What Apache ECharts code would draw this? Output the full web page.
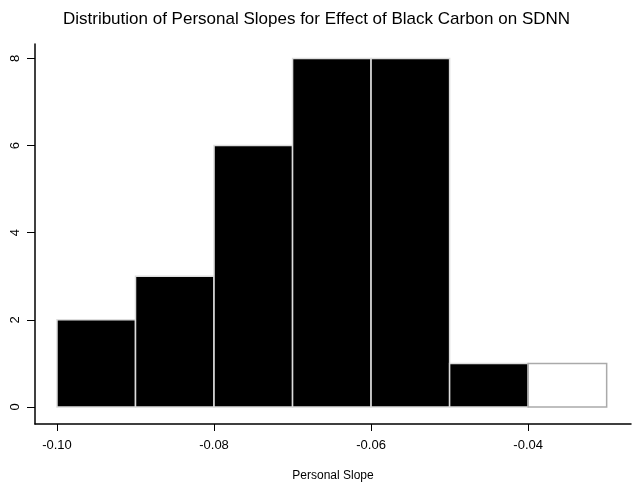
<!DOCTYPE html>
<html><head><meta charset="utf-8">
<script src="https://cdn.jsdelivr.net/npm/echarts@6/dist/echarts.min.js"></script>
<style>html,body{margin:0;padding:0;background:#fff}#c{width:633px;height:487px}</style>
</head><body><div id="c"></div>
<script>
const binStarts = [-0.10, -0.09, -0.08, -0.07, -0.06, -0.05, -0.04];
const binWidth = 0.01;
const counts = [2, 3, 6, 8, 8, 1, 1];
const xTicks = [-0.10, -0.08, -0.06, -0.04];
const xTickLabels = ['-0.10', '-0.08', '-0.06', '-0.04'];
const yTicks = [0, 2, 4, 6, 8];
const title = 'Distribution of Personal Slopes for Effect of Black Carbon on SDNN';
const xName = 'Personal Slope';

const data = binStarts.map((s, i) => [s, s + binWidth, counts[i], i === binStarts.length - 1 ? 1 : 0]);
const font = 'Liberation Sans, Arial, sans-serif';
const chart = echarts.init(document.getElementById('c'));
chart.setOption({
  animation: false,
  title: { text: title, left: 'center', top: 6, textStyle: { fontFamily: font, fontSize: 17, fontWeight: 'normal', color: '#000' } },
  grid: { left: 35, right: 2, top: 44, bottom: 60 },
  xAxis: {
    type: 'value', min: -0.1028, max: -0.0269,
    axisLine: { onZero: false, lineStyle: { color: '#000', width: 1.5 } },
    axisTick: { length: 7, lineStyle: { color: '#000' }, customValues: xTicks },
    axisLabel: { customValues: xTicks, formatter: v => xTickLabels[xTicks.findIndex(t => Math.abs(t - v) < 1e-9)] || '', fontFamily: font, fontSize: 13, color: '#000', margin: 15 },
    splitLine: { show: false },
    name: xName, nameLocation: 'middle', nameGap: 46, nameTextStyle: { fontFamily: font, fontSize: 12, color: '#000' }
  },
  yAxis: {
    type: 'value', min: -0.39, max: 8.33,
    axisLine: { show: true, onZero: false, lineStyle: { color: '#000', width: 1.5 } },
    axisTick: { show: true, length: 8, lineStyle: { color: '#000' }, customValues: yTicks },
    axisLabel: { customValues: yTicks, rotate: 90, fontFamily: font, fontSize: 13, color: '#000', margin: 13 },
    splitLine: { show: false }
  },
  series: [{
    type: 'custom',
    data: data,
    encode: { x: [0, 1], y: 2 },
    renderItem: function (params, api) {
      const p0 = api.coord([api.value(0), 0]);
      const p1 = api.coord([api.value(1), api.value(2)]);
      const hollow = api.value(3) === 1;
      return {
        type: 'rect',
        shape: { x: p0[0], y: p1[1], width: p1[0] - p0[0], height: p0[1] - p1[1] },
        style: { fill: hollow ? '#fff' : '#000', stroke: hollow ? '#aaa' : '#ddd', lineWidth: 1.5 }
      };
    }
  }]
});
</script></body></html>
